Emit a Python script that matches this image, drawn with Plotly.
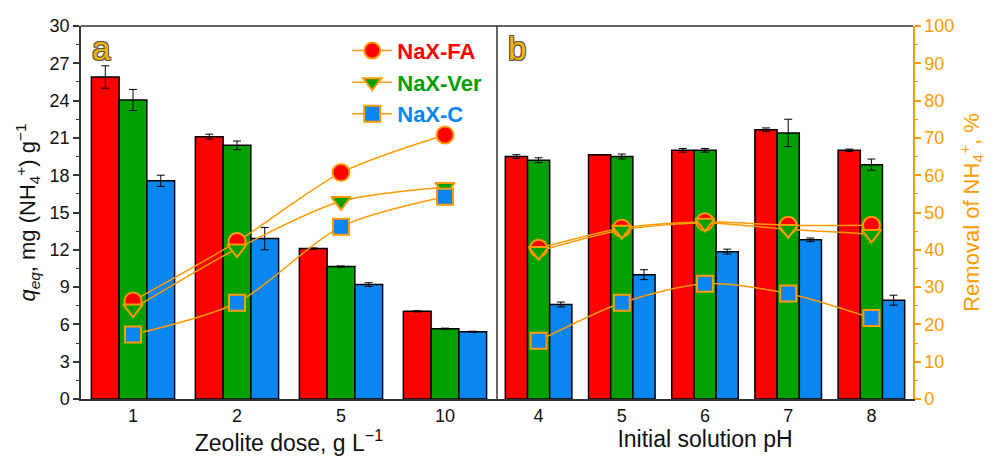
import plotly.graph_objects as go

# ---------------- data ----------------
doses = ["1", "2", "5", "10"]
ph = ["4", "5", "6", "7", "8"]

q_dose_fa = [25.9, 21.1, 12.1, 7.05]
q_dose_ver = [24.05, 20.4, 10.65, 5.65]
q_dose_c = [17.55, 12.9, 9.2, 5.4]
e_dose_fa = [0.9, 0.2, 0.05, 0.05]
e_dose_ver = [0.85, 0.35, 0.05, 0.05]
e_dose_c = [0.45, 0.9, 0.15, 0.05]

r_dose_fa = [26.3, 42.2, 60.7, 70.8]
r_dose_ver = [24.2, 40.3, 53.0, 56.8]
r_dose_c = [17.3, 25.8, 46.2, 54.2]

q_ph_fa = [19.5, 19.65, 20.0, 21.65, 20.0]
q_ph_ver = [19.2, 19.5, 20.0, 21.4, 18.85]
q_ph_c = [7.6, 10.0, 11.85, 12.8, 7.95]
e_ph_fa = [0.15, 0.0, 0.15, 0.15, 0.1]
e_ph_ver = [0.2, 0.2, 0.15, 1.1, 0.45]
e_ph_c = [0.2, 0.4, 0.2, 0.15, 0.4]

r_ph_fa = [40.4, 45.8, 47.5, 46.6, 46.6]
r_ph_ver = [39.6, 45.3, 47.2, 45.5, 44.2]
r_ph_c = [15.6, 25.8, 30.9, 28.3, 21.7]

names = ["NaX-FA", "NaX-Ver", "NaX-C"]
colors = ["#FF0000", "#00A000", "#0A86F0"]
symbols = ["circle", "triangle-down", "square"]
orange = "#FF9A00"
FONT = "Liberation Sans, Arial, sans-serif"

fig = go.Figure()

# bars
for xs, xa, qs, es in [
    (doses, "x", [q_dose_fa, q_dose_ver, q_dose_c], [e_dose_fa, e_dose_ver, e_dose_c]),
    (ph, "x2", [q_ph_fa, q_ph_ver, q_ph_c], [e_ph_fa, e_ph_ver, e_ph_c]),
]:
    for i in range(3):
        fig.add_trace(go.Bar(
            x=xs, y=qs[i], xaxis=xa, yaxis="y",
            marker=dict(color=colors[i], line=dict(color="black", width=1.5)),
            error_y=dict(type="data", array=es[i], color="black", thickness=1, width=4),
            showlegend=False, offsetgroup=str(i),
        ))

# removal lines
msizes = [17, 17, 16]
for xs, xa, rs, show in [
    (doses, "x", [r_dose_fa, r_dose_ver, r_dose_c], True),
    (ph, "x2", [r_ph_fa, r_ph_ver, r_ph_c], False),
]:
    for i in range(3):
        fig.add_trace(go.Scatter(
            x=xs, y=rs[i], xaxis=xa, yaxis="y2",
            mode="lines+markers",
            line=dict(color=orange, width=1.5, shape="spline", smoothing=0.8),
            marker=dict(symbol=symbols[i], size=msizes[i], color=colors[i],
                        line=dict(color=orange, width=2)),
            name=f'<b><span style="color:{colors[i]}">{names[i]}</span></b>',
            showlegend=show,
        ))

axis_common = dict(showline=True, linecolor="#333", linewidth=1.5, mirror=False,
                   ticks="", tickfont=dict(size=18, color="#111", family=FONT),
                   showgrid=False, zeroline=False, type="category")

fig.update_layout(
    width=995, height=458,
    margin=dict(l=81, r=82, t=26, b=59),
    paper_bgcolor="white", plot_bgcolor="white",
    font=dict(family=FONT, color="#111"),
    barmode="group", bargap=0.2, bargroupgap=0,
    xaxis=dict(domain=[0, 0.5], anchor="y", **axis_common,
               range=[-0.5, 3.5],
               title=dict(text="Zeolite dose, g L<sup>−1</sup>", font=dict(size=23, family=FONT), standoff=5)),
    xaxis2=dict(domain=[0.5, 1], anchor="y", **axis_common,
                range=[-0.5, 4.5],
                title=dict(text="Initial solution pH", font=dict(size=23, family=FONT), standoff=5)),
    yaxis=dict(range=[0, 30], dtick=3, tick0=0, showline=True, linecolor="#333", linewidth=1.5,
               ticks="outside", ticklen=6, tickwidth=1.5, tickcolor="#333",
               minor=dict(dtick=1.5, ticks="outside", ticklen=3, tickcolor="#333", tickwidth=1),
               tickfont=dict(size=18, family=FONT, color="#111"),
               showgrid=False, zeroline=False, anchor="x",
               title=dict(text="<i>q<sub>eq</sub></i>, mg (NH<sub>4</sub><sup>+</sup>) g<sup>−1</sup>",
                          font=dict(size=22, family=FONT), standoff=8)),
    yaxis2=dict(range=[0, 100], dtick=10, tick0=0, overlaying="y", side="right", anchor="x2",
                showline=True, linecolor=orange, linewidth=1.5,
                ticks="outside", ticklen=6, tickwidth=1.5, tickcolor=orange,
                minor=dict(dtick=5, ticks="outside", ticklen=3, tickcolor=orange, tickwidth=1),
                tickfont=dict(size=18, family=FONT, color=orange),
                showgrid=False, zeroline=False,
                title=dict(text="Removal of NH<sub>4</sub><sup>+</sup>, %",
                           font=dict(size=22, family=FONT, color=orange), standoff=10)),
    legend=dict(x=0.32, y=0.99, xanchor="left", yanchor="top",
                bgcolor="rgba(0,0,0,0)", font=dict(size=22, family=FONT),
                tracegroupgap=0, itemwidth=40),
    showlegend=True,
)

# frame: top line and divider
fig.add_shape(type="line", xref="paper", yref="paper", x0=0, x1=1, y0=1, y1=1,
              line=dict(color="#333", width=1.5))
fig.add_shape(type="line", xref="paper", yref="paper", x0=0.5, x1=0.5, y0=0, y1=1,
              line=dict(color="#333", width=1.5))

# panel labels
for txt, xp in [("a", 0.011), ("b", 0.511)]:
    fig.add_annotation(text=txt, xref="paper", yref="paper", x=xp, y=0.995,
                       xanchor="left", yanchor="top", showarrow=False,
                       font=dict(size=33, family=FONT, color="#F5B400",
                                 shadow="-1px -1px 0 #555, 1px -1px 0 #555, -1px 1px 0 #555, 1px 1px 0 #555"))

fig.write_html("out.html")
